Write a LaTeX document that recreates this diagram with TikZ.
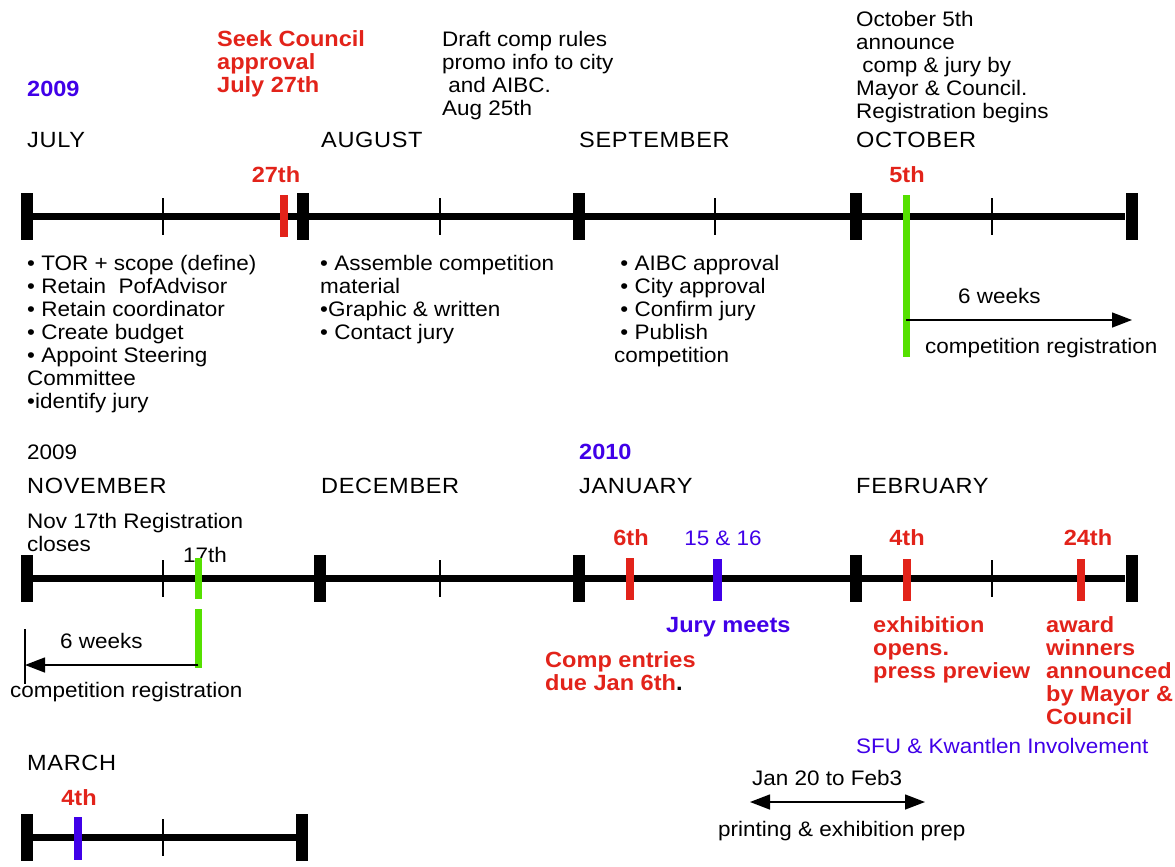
\documentclass[tikz,border=0pt]{standalone}
\usepackage{fontspec}
\setmainfont{Liberation Sans}[FakeStretch=1.07]
\usetikzlibrary{arrows.meta}
\definecolor{tred}{RGB}{226,35,26}
\definecolor{tblue}{RGB}{64,0,232}
\definecolor{tgreen}{RGB}{85,224,0}
\newcommand\txtrg{\fontsize{21}{23}\selectfont}
\newcommand\txtbd{\fontsize{22}{23}\selectfont\bfseries}
\newcommand\txtmo{\fontsize{22}{23}\selectfont\addfontfeature{LetterSpace=3}}
\begin{document}
\begin{tikzpicture}[x=1pt,y=-1pt,
  bigtick/.style={fill=black,inner sep=0,minimum width=12pt,minimum height=47pt},
  thintick/.style={line width=1.4pt},
  axis/.style={line width=7pt},
  bar/.style={inner sep=0,minimum width=8pt,minimum height=42pt},
  greenline/.style={line width=7pt,tgreen},
  arr/.style={line width=1.4pt,-{Triangle[length=20pt,width=15pt]}},
  darr/.style={line width=1.4pt,{Triangle[length=20pt,width=15pt]}-{Triangle[length=20pt,width=15pt]}},
  t/.style={inner sep=0,anchor=base west,font=\txtrg},
  tb/.style={inner sep=0,anchor=base west,font=\txtbd},
  tm/.style={inner sep=0,anchor=base west,font=\txtmo},
  tcb/.style={inner sep=0,anchor=base,font=\txtbd},
  tc/.style={inner sep=0,anchor=base,font=\txtrg},
  blk/.style={inner sep=0,anchor=north west,align=left,font=\txtrg},
  blkb/.style={inner sep=0,anchor=north west,align=left,font=\txtbd}]
\useasboundingbox (0,0) rectangle (1175,867);

% ---------------- Row 1 ----------------
\node[tb,text=tblue] (y2009a) at (27,96) {2009};
\node[blkb,text=tred] (seek) at (217,30) {Seek Council\\approval\\July 27th};
\node[blk] (draft) at (442,31) {Draft comp rules\\promo info to city\\\ and AIBC.\\Aug 25th};
\node[blk] (oct5) at (856,11) {October 5th\\announce\\\ comp \& jury by\\Mayor \& Council.\\Registration begins};
\node[tm] (jul) at (27,147) {JULY};
\node[tm] (aug) at (321,147) {AUGUST};
\node[tm] (sep) at (579,147) {SEPTEMBER};
\node[tm] (octm) at (856,147) {OCTOBER};
\node[tcb,text=tred] (d27) at (276,182) {27th};
\node[tcb,text=tred] (d5) at (907,182) {5th};

\foreach \n/\x in {a/26.5,b/303,c/579,d/856,e/1131.5}
  \node[bigtick] (r1\n) at (\x,216.5) {};
\draw[axis] (r1a) -- (r1e);
\foreach \x in {163,440,715,992}
  \draw[thintick] (\x,198) -- (\x,235);
\node[bar,fill=tred] (b27) at (284,215.5) {};
\draw[greenline] (906,195) -- (906,357);
\coordinate (g1) at (906,320);
\coordinate (g1e) at (1132,320);
\draw[arr] (g1) -- (g1e);
\node[t] (w6a) at (958,303) {6 weeks};
\node[t] (cra) at (925,353) {competition registration};

\node[blk] (list1) at (27,255) {• TOR + scope (define)\\• Retain\ \ PofAdvisor\\• Retain coordinator\\• Create budget\\• Appoint Steering\\Committee\\•identify jury};
\node[blk] (list2) at (320,255) {• Assemble competition\\material\\•Graphic \& written\\• Contact jury};
\node[blk] (list3) at (614,255) {\ • AIBC approval\\\ • City approval\\\ • Confirm jury\\\ • Publish\\competition};

% ---------------- Row 2 ----------------
\node[t] (y2009b) at (27,459) {2009};
\node[tb,text=tblue] (y2010) at (579,459) {2010};
\node[tm] (nov) at (27,493) {NOVEMBER};
\node[tm] (dec) at (321,493) {DECEMBER};
\node[tm] (jan) at (579,493) {JANUARY};
\node[tm] (feb) at (856,493) {FEBRUARY};
\node[blk] (nov17) at (27,513) {Nov 17th Registration\\closes};
\node[t] (d17) at (183,562) {17th};
\node[tcb,text=tred] (d6) at (631,545) {6th};
\node[tc,text=tblue] (d1516) at (723,545) {15 \& 16};
\node[tcb,text=tred] (d4) at (907,545) {4th};
\node[tcb,text=tred] (d24) at (1088,545) {24th};

\foreach \n/\x in {a/26.5,b/320,c/579,d/856,e/1131.5}
  \node[bigtick] (r2\n) at (\x,578.5) {};
\draw[axis] (r2a) -- (r2e);
\foreach \x in {163,440,992}
  \draw[thintick] (\x,560) -- (\x,597);
\node[bar,fill=tred] (b6) at (630,579) {};
\node[bar,fill=tblue,minimum width=9pt] (b15) at (717.5,580) {};
\node[bar,fill=tred] (b4) at (907,580) {};
\node[bar,fill=tred] (b24) at (1081,580) {};
\draw[greenline] (198,558) -- (198,599);
\draw[greenline] (198,609) -- (198,668);
\coordinate (g2) at (198,665);
\coordinate (g2e) at (25,665);
\draw[arr] (g2) -- (g2e);
\draw[thintick] (25,629) -- (25,684);
\node[t] (w6b) at (60,648) {6 weeks};
\node[t] (crb) at (10,697) {competition registration};

\node[tb,text=tblue] (jury) at (666,632) {Jury meets};
\node[blkb,text=tred] (comp) at (545,651) {Comp entries\\due Jan 6th{\color{black}.}};
\node[blkb,text=tred] (exh) at (873,616) {exhibition\\opens.\\press preview};
\node[blkb,text=tred] (award) at (1046,616) {award\\winners\\announced\\by Mayor \&\\Council};
\node[t,text=tblue] (sfu) at (856,753) {SFU \& Kwantlen Involvement};

\node[t] (jan20) at (752,785) {Jan 20 to Feb3};
\coordinate (p1) at (750,802);
\coordinate (p2) at (925,802);
\draw[darr] (p1) -- (p2);
\node[t] (print) at (718,836) {printing \& exhibition prep};

% ---------------- Row 3 ----------------
\node[tm] (mar) at (27,770) {MARCH};
\node[tcb,text=tred] (d4m) at (79,805) {4th};
\foreach \n/\x in {a/26.5,b/302}
  \node[bigtick] (r3\n) at (\x,837.5) {};
\draw[axis] (r3a) -- (r3b);
\draw[thintick] (163,819) -- (163,856);
\node[bar,fill=tblue,minimum height=43pt] (b4m) at (77.5,838.5) {};
\end{tikzpicture}
\end{document}
